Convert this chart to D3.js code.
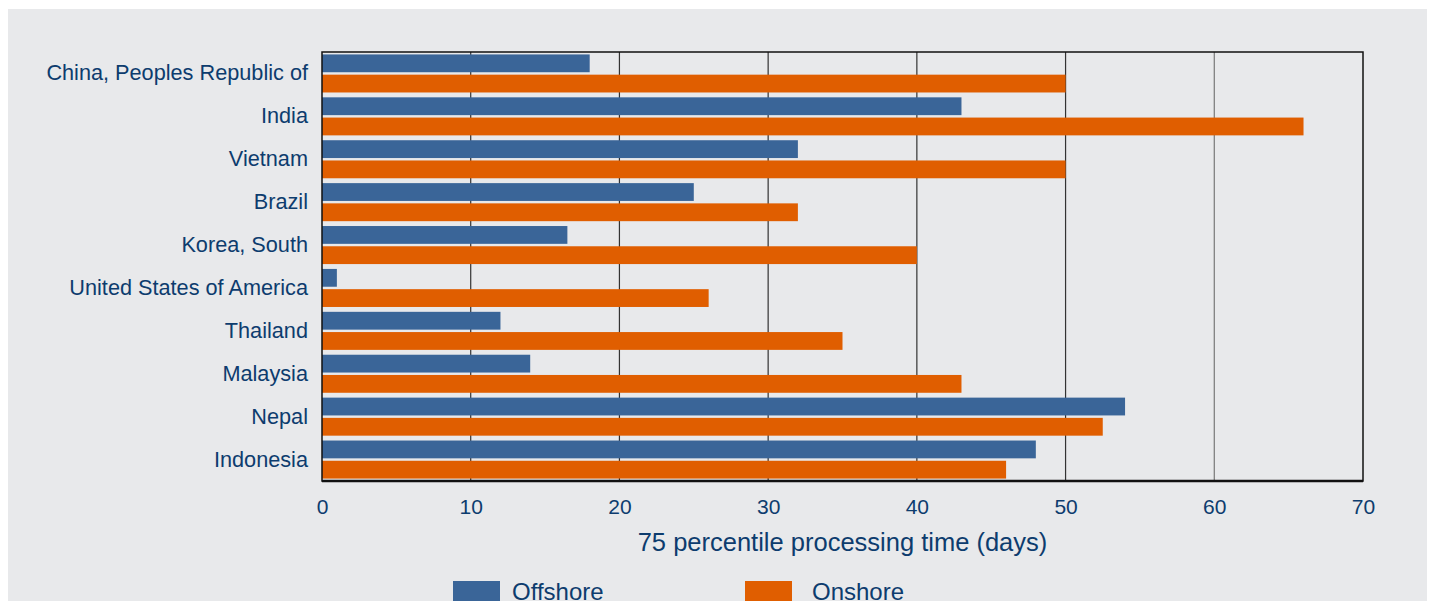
<!DOCTYPE html>
<html>
<head>
<meta charset="utf-8">
<script src="https://cdn.jsdelivr.net/npm/d3@7"></script>
<style>
  body { margin: 0; background: #fff; }
  svg { display: block; font-family: Arial, "Liberation Sans", sans-serif; }
</style>
</head>
<body>
<div id="chart"></div>
<script>
// data
const countries = ["China, Peoples Republic of", "India", "Vietnam", "Brazil", "Korea, South",
  "United States of America", "Thailand", "Malaysia", "Nepal", "Indonesia"];
const offshore = [18, 43, 32, 25, 16.5, 1, 12, 14, 54, 48];
const onshore = [50, 66, 50, 32, 40, 26, 35, 43, 52.5, 46];
const seriesNames = ["Offshore", "Onshore"];
const seriesColors = ["#3a6598", "#e05e00"];
const xTicks = [0, 10, 20, 30, 40, 50, 60, 70];

const W = 1430, H = 601;
const plotLeft = 322, plotRight = 1363, plotTop = 52, plotBottom = 481;
const textColor = "#0d3c6e";

const rows = countries.map((c, i) => ({ country: c, Offshore: offshore[i], Onshore: onshore[i] }));

const svg = d3.select("#chart").append("svg")
  .attr("width", W).attr("height", H);

svg.append("rect")
  .attr("x", 8).attr("y", 9)
  .attr("width", 1419).attr("height", H - 9)
  .attr("fill", "#e8e9eb");

let x = d3.scaleLinear().domain([0, 70]).range([plotLeft, plotRight]);
let y = d3.scaleBand().domain(countries).range([plotTop, plotBottom]);
let ySub = d3.scaleBand().domain(seriesNames).range([0, y.bandwidth()])
  .paddingInner(0.12).paddingOuter(0.12);
let color = d3.scaleOrdinal().domain(seriesNames).range(seriesColors);

// gridlines
svg.append("g")
  .selectAll("line")
  .data(xTicks.filter(t => t > 0 && t < 70))
  .enter()
  .append("line")
  .attr("x1", d => x(d)).attr("x2", d => x(d))
  .attr("y1", plotTop).attr("y2", plotBottom)
  .attr("stroke", d => d == 60 ? "#777" : "#333")
  .attr("stroke-width", 1.2);

// bars
svg.append("g")
  .selectAll("g")
  .data(rows)
  .enter()
  .append("g")
  .attr("transform", d => "translate(0," + y(d.country) + ")")
  .selectAll("rect")
  .data(d => seriesNames.map(s => ({ key: s, value: d[s] })))
  .enter()
  .append("rect")
  .attr("x", x(0))
  .attr("y", d => ySub(d.key))
  .attr("width", d => x(d.value) - x(0))
  .attr("height", ySub.bandwidth())
  .attr("fill", d => color(d.key));

// frame
svg.append("rect")
  .attr("x", plotLeft).attr("y", plotTop)
  .attr("width", plotRight - plotLeft).attr("height", plotBottom - plotTop)
  .attr("fill", "none")
  .attr("stroke", "#111")
  .attr("stroke-width", 1.5);
svg.append("line")
  .attr("x1", plotLeft).attr("x2", plotRight)
  .attr("y1", plotBottom).attr("y2", plotBottom)
  .attr("stroke", "#111").attr("stroke-width", 2.5);

// x axis
let xAxis = svg.append("g")
  .attr("transform", "translate(0," + plotBottom + ")")
  .call(d3.axisBottom(x).tickValues(xTicks).tickSize(0).tickPadding(33));
xAxis.select(".domain").remove();
xAxis.selectAll("text")
  .attr("fill", textColor)
  .style("font-size", "21px")
  .attr("dy", 0);

// y axis
let yAxis = svg.append("g")
  .attr("transform", "translate(" + plotLeft + ",0)")
  .call(d3.axisLeft(y).tickSize(0).tickPadding(14));
yAxis.select(".domain").remove();
yAxis.selectAll("text")
  .attr("fill", textColor)
  .style("font-size", "21.7px");

svg.append("text")
  .attr("x", (plotLeft + plotRight) / 2)
  .attr("y", 551)
  .attr("text-anchor", "middle")
  .attr("fill", textColor)
  .style("font-size", "25.5px")
  .text("75 percentile processing time (days)");

// legend (cut off by the bottom edge, as in the original)
const legendX = [453, 745];
let legend = svg.append("g")
  .selectAll("g")
  .data(seriesNames)
  .enter()
  .append("g")
  .attr("transform", (d, i) => "translate(" + legendX[i] + ",581)");
legend.append("rect")
  .attr("width", 47).attr("height", 24)
  .attr("fill", d => color(d));
legend.append("text")
  .attr("x", (d, i) => i == 0 ? 59 : 67)
  .attr("y", 19)
  .attr("fill", textColor)
  .style("font-size", "24px")
  .text(d => d);
</script>
</body>
</html>
